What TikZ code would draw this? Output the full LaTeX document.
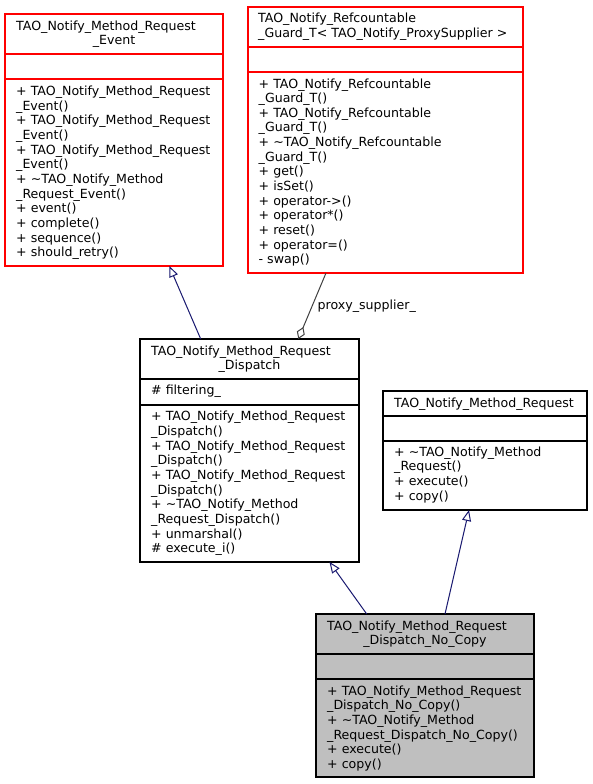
\documentclass[tikz,border=0pt]{standalone}
\usepackage{fontspec}
\setmainfont{DejaVu Sans}
\usetikzlibrary{arrows.meta}
\newcommand\dxf{\fontsize{12.6}{14.65}\selectfont}
\newcommand\us{\_}
\newcommand\tl{\textasciitilde}
\definecolor{navy}{HTML}{191970}
\definecolor{grey25}{HTML}{404040}
\definecolor{grey75}{HTML}{BFBFBF}
\definecolor{boxred}{HTML}{FF0000}
\tikzset{
  redbox/.style={draw=boxred, line width=1.1pt, fill=white, inner sep=0pt, outer sep=0pt, anchor=north west},
  blkbox/.style={draw=black, line width=1.1pt, fill=white, inner sep=0pt, outer sep=0pt, anchor=north west},
  mainbox/.style={draw=black, line width=1.1pt, fill=grey75, inner sep=0pt, outer sep=0pt, anchor=north west},
  redsep/.style={draw=boxred, line width=1.1pt},
  blksep/.style={draw=black, line width=1.1pt},
  ln/.style={anchor=base west, inner sep=0pt, font=\dxf},
  lnc/.style={anchor=base, inner sep=0pt, font=\dxf},
  body/.style={anchor=north west, inner sep=0pt, align=left, font=\dxf},
  inh/.style={draw=navy, line width=1pt, -{Triangle[open, length=11pt, width=9pt]}},
  agg/.style={draw=grey25, line width=1pt, -{Diamond[open, length=13pt, width=8.5pt]}},
}
\begin{document}
\begin{tikzpicture}[x=1pt, y=-1pt]
\fill[white] (0,0) rectangle (592,784);
\useasboundingbox (0,0) rectangle (592,784);

% Box A: Method_Request_Event
\node[redbox, minimum width=218pt, minimum height=252pt] (A) at (5,14) {};
\draw[redsep] ([yshift=-40pt]A.north west) -- ([yshift=-40pt]A.north east);
\draw[redsep] ([yshift=-65pt]A.north west) -- ([yshift=-65pt]A.north east);
\node[ln] (At1) at (16,30.5) {TAO\us Notify\us Method\us Request};
\node[lnc] (At2) at (114,45) {\us Event};
\node[body] (Ab) at (16,95.3-10.255) {\strut + TAO\us Notify\us Method\us Request\\\us Event()\\+ TAO\us Notify\us Method\us Request\\\us Event()\\+ TAO\us Notify\us Method\us Request\\\us Event()\\+ \tl TAO\us Notify\us Method\\\us Request\us Event()\\+ event()\\+ complete()\\+ sequence()\\+ should\us retry()};

% Box B: Refcountable_Guard_T
\node[redbox, minimum width=275pt, minimum height=266pt] (B) at (248,7) {};
\draw[redsep] ([yshift=-40pt]B.north west) -- ([yshift=-40pt]B.north east);
\draw[redsep] ([yshift=-65pt]B.north west) -- ([yshift=-65pt]B.north east);
\node[ln] (Bt1) at (258,22.7) {TAO\us Notify\us Refcountable};
\node[ln] (Bt2) at (258,37.2) {\us Guard\us T< TAO\us Notify\us ProxySupplier >};
\node[body] (Bb) at (258.5,87.8-10.255) {\strut + TAO\us Notify\us Refcountable\\\us Guard\us T()\\+ TAO\us Notify\us Refcountable\\\us Guard\us T()\\+ \tl TAO\us Notify\us Refcountable\\\us Guard\us T()\\+ get()\\+ isSet()\\+ operator->()\\+ operator*()\\+ reset()\\+ operator=()\\- swap()};

% Box C: Method_Request_Dispatch
\node[blkbox, minimum width=219pt, minimum height=223pt] (C) at (140,339) {};
\draw[blksep] ([yshift=-40pt]C.north west) -- ([yshift=-40pt]C.north east);
\draw[blksep] ([yshift=-66pt]C.north west) -- ([yshift=-66pt]C.north east);
\node[ln] (Ct1) at (151,355) {TAO\us Notify\us Method\us Request};
\node[lnc] (Ct2) at (249.5,369.5) {\us Dispatch};
\node[ln] (Ca) at (151,394.5) {\# filtering\us};
\node[body] (Cb) at (151,420.7-10.255) {\strut + TAO\us Notify\us Method\us Request\\\us Dispatch()\\+ TAO\us Notify\us Method\us Request\\\us Dispatch()\\+ TAO\us Notify\us Method\us Request\\\us Dispatch()\\+ \tl TAO\us Notify\us Method\\\us Request\us Dispatch()\\+ unmarshal()\\\# execute\us i()};

% Box D: Method_Request
\node[blkbox, minimum width=204pt, minimum height=119pt] (D) at (383,391) {};
\draw[blksep] ([yshift=-25pt]D.north west) -- ([yshift=-25pt]D.north east);
\draw[blksep] ([yshift=-50pt]D.north west) -- ([yshift=-50pt]D.north east);
\node[ln] (Dt1) at (394,407) {TAO\us Notify\us Method\us Request};
\node[body] (Db) at (394,456-10.255) {\strut + \tl TAO\us Notify\us Method\\\us Request()\\+ execute()\\+ copy()};

% Box E: Dispatch_No_Copy
\node[mainbox, minimum width=218pt, minimum height=163pt] (E) at (316,614) {};
\draw[blksep] ([yshift=-40pt]E.north west) -- ([yshift=-40pt]E.north east);
\draw[blksep] ([yshift=-65pt]E.north west) -- ([yshift=-65pt]E.north east);
\node[ln] (Et1) at (327,630) {TAO\us Notify\us Method\us Request};
\node[lnc] (Et2) at (425,644.5) {\us Dispatch\us No\us Copy};
\node[body] (Eb) at (327,695-10.255) {\strut + TAO\us Notify\us Method\us Request\\\us Dispatch\us No\us Copy()\\+ \tl TAO\us Notify\us Method\\\us Request\us Dispatch\us No\us Copy()\\+ execute()\\+ copy()};

% Connectors
\draw[inh] ([xshift=60.7pt]C.north west) -- ([xshift=164.3pt]A.south west);
\draw[agg] ([xshift=78pt]B.south west) -- ([xshift=158.3pt]C.north west);
\node[ln] (lbl) at (317.5,309) {proxy\us supplier\us};
\draw[inh] ([xshift=50.7pt]E.north west) -- ([xshift=189.5pt]C.south west);
\draw[inh] ([xshift=129pt]E.north west) -- ([xshift=86pt]D.south west);
\end{tikzpicture}
\end{document}
